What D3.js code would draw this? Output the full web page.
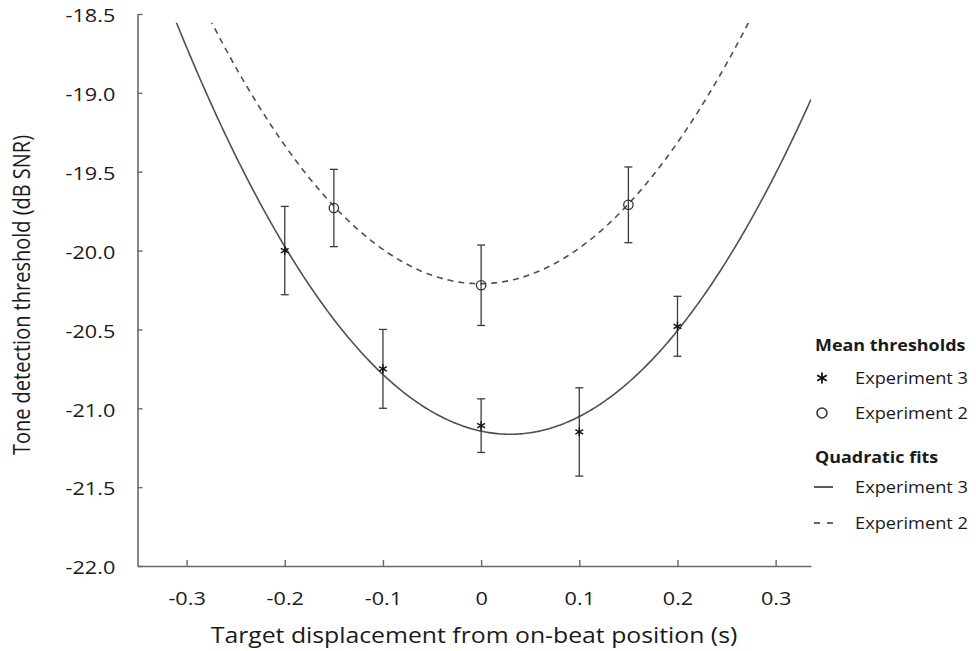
<!DOCTYPE html>
<html>
<head>
<meta charset="utf-8">
<script src="https://cdn.jsdelivr.net/npm/d3@7"></script>
<style>
  html, body { margin: 0; padding: 0; background: #fff; }
  svg { display: block; font-family: "Open Sans", "Segoe UI", sans-serif; }
</style>
</head>
<body>
<svg id="chart" width="976" height="651"></svg>
<script>
// Target displacement (s) of each condition
const exp3Offsets = [-0.2, -0.1, 0, 0.1, 0.2];
const exp2Offsets = [-0.15, 0, 0.15];

// Mean tone detection thresholds (dB SNR)
const exp3Means = [-20.00, -20.75, -21.11, -21.15, -20.48];
const exp2Means = [-19.73, -20.22, -19.71];

// Error-bar half widths (dB)
const exp3Errors = [0.28, 0.25, 0.17, 0.28, 0.19];
const exp2Errors = [0.245, 0.255, 0.24];

// Quadratic fit coefficients [c0, c1, c2]: y = c0 + c1*x + c2*x^2
const exp3Fit = [-21.145, -1.333, 22.6];
const exp2Fit = [-20.21, 0.044, 22.15];

// Axis ticks
const xTicks = [-0.3, -0.2, -0.1, 0, 0.1, 0.2, 0.3];
const yTicks = [-22.0, -21.5, -21.0, -20.5, -20.0, -19.5, -19.0, -18.5];

const svg = d3.select("#chart");
const ink = "#1a1a1a";
const lineColor = "#505050";
const stretch = 1.17;   // wide text face

const x = d3.scaleLinear().domain([-0.35, 0.336]).range([137.5, 811]);
const y = d3.scaleLinear().domain([-22, -18.5]).range([566, 14]);

// Plain hyphen for negative labels
const fmt1 = d => d3.format(".1f")(d).replace("\u2212", "-");
const fmtX = d => d === 0 ? "0" : fmt1(d);

// Clip the fitted curves just below the top of the value axis
svg.append("defs").append("clipPath").attr("id", "plotClip")
  .append("rect")
  .attr("x", x(-0.35)).attr("y", y(-18.555))
  .attr("width", x(0.336) - x(-0.35)).attr("height", y(-22) - y(-18.555));

// Axes (ticks point inward)
const xAxis = svg.append("g").attr("transform", `translate(0,${y(-22)})`)
  .call(d3.axisBottom(x).tickValues(xTicks).tickSizeInner(-6).tickSizeOuter(0)
    .tickPadding(26).tickFormat(fmtX));
const yAxis = svg.append("g").attr("transform", `translate(${x(-0.35)},0)`)
  .call(d3.axisLeft(y).tickValues(yTicks).tickSizeInner(-5).tickSizeOuter(0)
    .tickPadding(19).tickFormat(fmt1));

[xAxis, yAxis].forEach(g => {
  g.select(".domain").attr("stroke", "#6a6a6a").attr("stroke-width", 1.6);
  g.selectAll(".tick line").attr("stroke", "#6a6a6a").attr("stroke-width", 1.4);
  g.selectAll(".tick text").attr("fill", ink).attr("font-size", 18.5)
    .attr("font-family", "'Open Sans', sans-serif")
    .attr("transform", `scale(${stretch},1)`);
});
yAxis.selectAll(".tick text").attr("dy", "0.42em");

// Axis titles
svg.append("text")
  .attr("transform", `translate(474,643) scale(1.18,1)`)
  .attr("text-anchor", "middle")
  .attr("font-size", 21).attr("fill", ink)
  .text("Target displacement from on-beat position (s)");
svg.append("text")
  .attr("transform", `translate(30,295) scale(${stretch},1) rotate(-90)`)
  .attr("text-anchor", "middle")
  .attr("font-size", 20).attr("fill", ink)
  .text("Tone detection threshold (dB SNR)");

// Fitted quadratic curves
function fitLine(coef) {
  const xs = d3.range(-0.35, 0.3365, 0.002);
  return d3.line().x(d => x(d)).y(d => y(coef[0] + coef[1] * d + coef[2] * d * d))(xs);
}
const curves = svg.append("g").attr("clip-path", "url(#plotClip)");
curves.append("path").attr("d", fitLine(exp3Fit))
  .attr("fill", "none").attr("stroke", lineColor).attr("stroke-width", 1.6);
curves.append("path").attr("d", fitLine(exp2Fit))
  .attr("fill", "none").attr("stroke", lineColor).attr("stroke-width", 1.6)
  .attr("stroke-dasharray", "6,5");

// Error bars
function errorBars(offsets, means, errors) {
  const g = svg.append("g").attr("stroke", "#3c3c3c").attr("stroke-width", 1.3);
  offsets.forEach((o, i) => {
    const cx = x(o), top = y(means[i] + errors[i]), bot = y(means[i] - errors[i]);
    g.append("line").attr("x1", cx).attr("x2", cx).attr("y1", top).attr("y2", bot);
    g.append("line").attr("x1", cx - 4).attr("x2", cx + 4).attr("y1", top).attr("y2", top);
    g.append("line").attr("x1", cx - 4).attr("x2", cx + 4).attr("y1", bot).attr("y2", bot);
  });
}
errorBars(exp3Offsets, exp3Means, exp3Errors);
errorBars(exp2Offsets, exp2Means, exp2Errors);

// Asterisk marker: three crossing strokes
function asterisk(g, cx, cy, r, w) {
  [90, 30, -30].forEach(a => {
    const rad = a * Math.PI / 180;
    g.append("line")
      .attr("x1", cx - r * Math.cos(rad)).attr("y1", cy - r * Math.sin(rad))
      .attr("x2", cx + r * Math.cos(rad)).attr("y2", cy + r * Math.sin(rad))
      .attr("stroke", "#111").attr("stroke-width", w);
  });
}

const marks = svg.append("g");
exp3Offsets.forEach((o, i) => asterisk(marks, x(o), y(exp3Means[i]), 4.5, 1.4));
marks.selectAll("circle.exp2").data(exp2Offsets).join("circle")
  .attr("class", "exp2")
  .attr("cx", d => x(d)).attr("cy", (d, i) => y(exp2Means[i]))
  .attr("r", 4.7)
  .attr("fill", "none").attr("stroke", "#333").attr("stroke-width", 1.3);

// Legend
const legend = svg.append("g").attr("font-size", 16).attr("fill", ink);
function legendText(tx, ty, label, bold) {
  legend.append("text")
    .attr("transform", `translate(${tx},${ty}) scale(${bold ? 1.12 : 1.14},1)`)
    .attr("font-weight", bold ? "bold" : "normal")
    .text(label);
}
legendText(815, 351, "Mean thresholds", true);
asterisk(legend, 822, 378, 5.5, 1.8);
legendText(855, 384, "Experiment 3");
legend.append("circle").attr("cx", 822).attr("cy", 413).attr("r", 5)
  .attr("fill", "none").attr("stroke", "#333").attr("stroke-width", 1.6);
legendText(855, 419, "Experiment 2");
legendText(815, 463, "Quadratic fits", true);
legend.append("line").attr("x1", 814).attr("x2", 833).attr("y1", 487).attr("y2", 487)
  .attr("stroke", "#333").attr("stroke-width", 1.6);
legendText(855, 493, "Experiment 3");
legend.append("line").attr("x1", 814).attr("x2", 833).attr("y1", 523).attr("y2", 523)
  .attr("stroke", "#333").attr("stroke-width", 1.6).attr("stroke-dasharray", "6,7");
legendText(855, 529, "Experiment 2");
</script>
</body>
</html>
